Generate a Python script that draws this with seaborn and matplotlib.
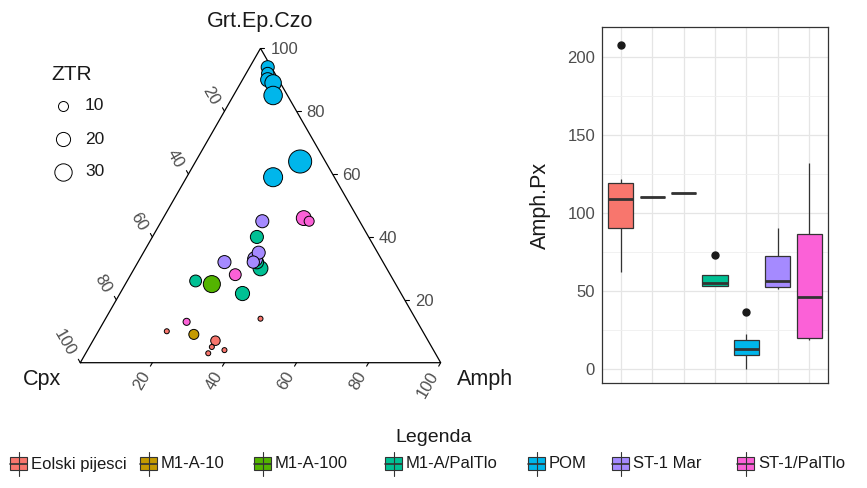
import numpy as np
import pandas as pd
import matplotlib.pyplot as plt
from matplotlib.patches import Rectangle
from matplotlib.ticker import MultipleLocator
import seaborn as sns

sns.set_style('white')
plt.rcParams['font.family'] = ['Liberation Sans', 'DejaVu Sans']

# groups and colours (ggplot default hue palette)
groups = ['Eolski pijesci', 'M1-A-10', 'M1-A-100', 'M1-A/PalTlo', 'POM', 'ST-1 Mar', 'ST-1/PalTlo']
colors = ['#F8766D', '#C49A00', '#53B400', '#00C094', '#00B6EB', '#A58AFF', '#FB61D7']

# ternary data (percent), one row per sample
tern_group = (['Eolski pijesci'] * 6 + ['M1-A-10'] + ['M1-A-100'] + ['M1-A/PalTlo'] * 5
              + ['POM'] * 7 + ['ST-1 Mar'] * 5 + ['ST-1/PalTlo'] * 4)
cpx = [59, 61, 63, 58, 71, 43,
       64,
       51,
       31, 35, 55, 44, 35,
       1, 2, 3, 2, 4, 7, 17,
       27, 35, 33, 44, 36,
       15, 14, 43, 64]
grt = [7, 5, 3, 4, 10, 14,
       9,
       25,
       40, 30, 26, 22, 32,
       94, 92, 90, 89, 85, 64, 59,
       45, 33, 35, 32, 32,
       46, 45, 28, 13]
amph = [34, 34, 34, 38, 19, 43,
        27,
        24,
        29, 35, 19, 34, 33,
        5, 6, 7, 9, 11, 29, 24,
        28, 32, 32, 24, 32,
        39, 41, 29, 23]
ztr = [9, 2.5, 2.5, 2.5, 2.5, 2.5,
       10,
       29,
       17, 22, 14, 20, 18,
       17, 15, 20, 27, 34, 53, 36,
       17, 22, 17, 17, 15,
       22, 10, 14, 5]

# boxplot data
box_values = {
    'Eolski pijesci': [62, 84, 108, 110, 122, 208],
    'M1-A-10': [110],
    'M1-A-100': [113],
    'M1-A/PalTlo': [53, 53, 55, 60, 73],
    'POM': [0, 8, 10, 12.6, 14.8, 22, 36],
    'ST-1 Mar': [51, 52.6, 56, 72, 90],
    'ST-1/PalTlo': [18.4, 20.4, 71, 132],
}
ztr_breaks = [10, 20, 30]
tick_vals = [20, 40, 60, 80, 100]

palette = dict(zip(groups, colors))
H = np.sqrt(3) / 2
K = 5.2  # marker area (pt^2) per ZTR unit

tern = pd.DataFrame({'Legenda': tern_group, 'Cpx': cpx, 'Grt': grt, 'Amph': amph, 'ZTR': ztr})
tot = tern[['Cpx', 'Grt', 'Amph']].sum(axis=1)
tern['tx'] = tern['Amph'] / tot + 0.5 * tern['Grt'] / tot
tern['ty'] = H * tern['Grt'] / tot

box_df = pd.DataFrame([(g, v) for g in groups for v in box_values[g]], columns=['Legenda', 'Amph.Px'])

fig = plt.figure(figsize=(8.67, 4.88), dpi=100)

# ---- ternary panel ----
ax_t = fig.add_axes([0, 0.15, 0.55, 0.85])
ax_t.set_xlim(-0.22281, 1.10031)
ax_t.set_ylim(-0.14353, 0.99917)
ax_t.axis('off')
ax_t.plot([0, 1, 0.5, 0], [0, 0, H, 0], color='black', lw=0.9, solid_joinstyle='miter')

sx, sy = 1 / 360.4, 1 / 363.0
tl = 4.0
for v in tick_vals:
    f = v / 100
    # Amph (bottom)
    px, py = f, 0
    ax_t.plot([px, px + tl * np.cos(np.radians(240)) * sx], [py, py + tl * np.sin(np.radians(240)) * sy],
              color='black', lw=0.8)
    ax_t.annotate(str(v), (px, py), xytext=(-4.3, -7.5), textcoords='offset points',
                  rotation=60, rotation_mode='anchor', ha='right', va='center',
                  fontsize=12, color='#4D4D4D')
    # Grt (right)
    px, py = 1 - f / 2, f * H
    ax_t.plot([px, px + tl * sx], [py, py], color='black', lw=0.8)
    ax_t.annotate(str(v), (px, py), xytext=(7.2, -1), textcoords='offset points',
                  ha='left', va='center', fontsize=12, color='#4D4D4D')
    # Cpx (left)
    px, py = (1 - f) / 2, (1 - f) * H
    ax_t.plot([px, px + tl * np.cos(np.radians(120)) * sx], [py, py + tl * np.sin(np.radians(120)) * sy],
              color='black', lw=0.8)
    ax_t.annotate(str(v), (px, py), xytext=(-6.5, 5.5), textcoords='offset points',
                  rotation=-60, rotation_mode='anchor', ha='right', va='center',
                  fontsize=12, color='#4D4D4D')

sns.scatterplot(data=tern, x='tx', y='ty', hue='Legenda', hue_order=groups, palette=palette,
                size='ZTR', sizes=(0, K * 60), size_norm=(0, 60), edgecolor='black',
                linewidth=0.7, alpha=1, legend=False, ax=ax_t, clip_on=False, zorder=3)

# ---- boxplot panel ----
ax_b = fig.add_axes([0.6943, 0.2145, 0.2607, 0.7307])
sns.boxplot(data=box_df, x='Legenda', y='Amph.Px', hue='Legenda', order=groups, hue_order=groups,
            palette=palette, saturation=1, width=0.8, linecolor='#333333', linewidth=0.9,
            showcaps=False, legend=False, ax=ax_b,
            flierprops=dict(marker='o', markersize=5, markerfacecolor='#1A1A1A',
                            markeredgecolor='#1A1A1A'),
            medianprops=dict(linewidth=2, color='#333333'))
ax_b.set_xlim(-0.6, 6.6)
ax_b.set_ylim(-9.5, 219.5)
ax_b.set_yticks([0, 50, 100, 150, 200])
ax_b.yaxis.set_minor_locator(MultipleLocator(25))
ax_b.set_axisbelow(True)
ax_b.grid(which='major', color='#E5E5E5', lw=0.9)
ax_b.grid(which='minor', axis='y', color='#EFEFEF', lw=0.6)
ax_b.set_xticklabels([])
ax_b.set_xlabel('')
ax_b.set_ylabel('Amph.Px', fontsize=15.5, color='#1A1A1A', va='center')
ax_b.yaxis.set_label_coords(-0.27, 0.5)
ax_b.tick_params(axis='both', which='major', direction='out', length=3, width=0.8,
                 color='#333333', labelcolor='#4D4D4D', labelsize=12, pad=2)
ax_b.tick_params(axis='y', which='minor', length=0)
for sp in ax_b.spines.values():
    sp.set_visible(True)
    sp.set_color('#333333')
    sp.set_linewidth(0.9)

# ---- overlay: titles and legends (pixel coordinates) ----
ax_o = fig.add_axes([0, 0, 1, 1])
ax_o.set_xlim(0, 867)
ax_o.set_ylim(488, 0)
ax_o.axis('off')

ax_o.text(260, 22, 'Grt.Ep.Czo', ha='center', va='center', fontsize=15.5, color='#1A1A1A')
ax_o.text(42, 380, 'Cpx', ha='center', va='center', fontsize=15.5, color='#1A1A1A')
ax_o.text(457, 380, 'Amph', ha='left', va='center', fontsize=15.5, color='#1A1A1A')

# ZTR size legend
ax_o.text(51, 75, 'ZTR', ha='left', va='center', fontsize=15, color='#1A1A1A')
for i, b in enumerate(ztr_breaks):
    yy = 106 + i * 33
    ax_o.scatter([63], [yy], s=K * b, facecolor='white', edgecolor='black', linewidth=0.7)
    ax_o.text(85, yy, str(b), ha='left', va='center', fontsize=12.5, color='#1A1A1A')

# fill legend
ax_o.text(434, 438, 'Legenda', ha='center', va='center', fontsize=14, color='#1A1A1A')
key_x = [10, 140, 254, 385, 528, 612, 737]
for g, kx in zip(groups, key_x):
    ax_o.plot([kx + 8.5, kx + 8.5], [452, 476], color='#333333', lw=0.8)
    ax_o.add_patch(Rectangle((kx, 457), 17, 13, facecolor=palette[g], edgecolor='#333333', lw=0.8))
    ax_o.plot([kx, kx + 17], [463.5, 463.5], color='#333333', lw=1.2)
    ax_o.text(kx + 21, 464, g, ha='left', va='center', fontsize=12, color='#1A1A1A')

fig.savefig('out.png', dpi=100)
